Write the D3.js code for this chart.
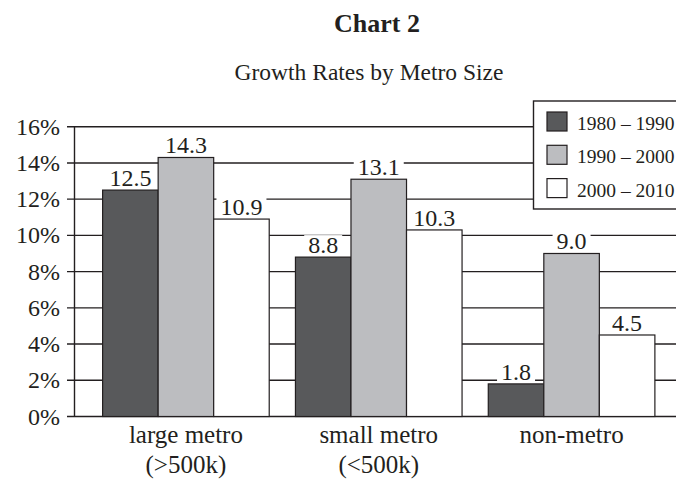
<!DOCTYPE html>
<html>
<head>
<meta charset="utf-8">
<script src="https://cdn.jsdelivr.net/npm/d3@7"></script>
<style>
  body { margin: 0; background: #fff; }
  svg { display: block; font-family: "Liberation Serif", "DejaVu Serif", serif; }
</style>
</head>
<body>
<div id="chart"></div>
<script>
let categories = ["large metro|(>500k)", "small metro|(<500k)", "non-metro"];
let seriesNames = ["1980 \u2013 1990", "1990 \u2013 2000", "2000 \u2013 2010"];
let series1980 = [12.5, 8.8, 1.8];
let series1990 = [14.3, 13.1, 9.0];
let series2000 = [10.9, 10.3, 4.5];
let yTicks = [0, 2, 4, 6, 8, 10, 12, 14, 16];

let colors = ["#58595b", "#bcbdc0", "#ffffff"];
let ink = "#231f20";

let svgWidth = 676;
let svgHeight = 481;

let svg = d3
  .select("#chart")
  .append("svg")
  .attr("width", svgWidth)
  .attr("height", svgHeight);

// titles
svg
  .append("text")
  .text("Chart 2")
  .attr("x", 377)
  .attr("y", 32)
  .attr("text-anchor", "middle")
  .style("font-weight", "bold")
  .style("font-size", "26px")
  .attr("fill", ink);

svg
  .append("text")
  .text("Growth Rates by Metro Size")
  .attr("x", 369)
  .attr("y", 80)
  .attr("text-anchor", "middle")
  .style("font-size", "23.5px")
  .attr("fill", ink);

let yScale = d3.scaleLinear().domain([0, 16]).range([416.5, 126.7]);

let xScale = d3
  .scaleBand()
  .domain(categories)
  .range([89.5, 668])
  .paddingInner(0.136)
  .paddingOuter(0.068);

let xInner = d3
  .scaleBand()
  .domain(seriesNames)
  .range([0, xScale.bandwidth()]);

// gridlines + tick marks
svg
  .append("g")
  .selectAll("line")
  .data(yTicks)
  .enter()
  .append("line")
  .attr("x1", 67)
  .attr("x2", 690)
  .attr("y1", (d) => yScale(d))
  .attr("y2", (d) => yScale(d))
  .attr("stroke", ink)
  .attr("stroke-width", 1.4);

// y axis line
svg
  .append("line")
  .attr("x1", 74.5)
  .attr("x2", 74.5)
  .attr("y1", yScale(16))
  .attr("y2", yScale(0))
  .attr("stroke", ink)
  .attr("stroke-width", 1.4);

svg
  .append("g")
  .selectAll("text")
  .data(yTicks)
  .enter()
  .append("text")
  .text((d) => d + "%")
  .attr("x", 60)
  .attr("y", (d) => yScale(d) + 8)
  .attr("text-anchor", "end")
  .style("font-size", "24px")
  .attr("fill", ink);

let allSeries = [series1980, series1990, series2000];

let rows = [];
categories.forEach((c, i) => {
  allSeries.forEach((s, j) => {
    rows.push({ cat: c, name: seriesNames[j], value: s[i], idx: j });
  });
});

// bars
svg
  .append("g")
  .selectAll("rect")
  .data(rows)
  .enter()
  .append("rect")
  .attr("x", (d) => xScale(d.cat) + xInner(d.name))
  .attr("y", (d) => yScale(d.value))
  .attr("width", xInner.bandwidth())
  .attr("height", (d) => yScale(0) - yScale(d.value))
  .attr("fill", (d) => colors[d.idx])
  .attr("stroke", ink)
  .attr("stroke-width", 1.2);

// value labels, white box behind them breaks the gridlines
let labels = svg.append("g");
rows.forEach((d) => {
  let g = labels.append("g");
  let base = yScale(d.value) - 4;
  let t = g
    .append("text")
    .text(d.value.toFixed(1))
    .attr("x", xScale(d.cat) + xInner(d.name) + xInner.bandwidth() / 2)
    .attr("y", base)
    .attr("text-anchor", "middle")
    .style("font-size", "24px")
    .attr("fill", ink);
  let bb = t.node().getBBox();
  g.insert("rect", "text")
    .attr("x", bb.x - 4)
    .attr("y", bb.y + 3)
    .attr("width", bb.width + 8)
    .attr("height", base + 2 - (bb.y + 3))
    .attr("fill", "#fff");
});

// category labels (two lines)
categories.forEach((c) => {
  let parts = c.split("|");
  let cx = xScale(c) + xScale.bandwidth() / 2;
  parts.forEach((p, k) => {
    svg
      .append("text")
      .text(p)
      .attr("x", cx)
      .attr("y", 443 + k * 30)
      .attr("text-anchor", "middle")
      .style("font-size", "25px")
      .attr("fill", ink);
  });
});

// legend
let legend = svg.append("g");
legend
  .append("rect")
  .attr("x", 533.5)
  .attr("y", 101)
  .attr("width", 160)
  .attr("height", 108)
  .attr("fill", "#fff")
  .attr("stroke", ink)
  .attr("stroke-width", 1.4);

seriesNames.forEach((n, i) => {
  legend
    .append("rect")
    .attr("x", 547)
    .attr("y", 112 + i * 33.3)
    .attr("width", 20)
    .attr("height", 19)
    .attr("fill", colors[i])
    .attr("stroke", ink)
    .attr("stroke-width", 1.2);
  legend
    .append("text")
    .text(n)
    .attr("x", 577)
    .attr("y", 130 + i * 33.3)
    .style("font-size", "19.5px")
    .attr("fill", ink);
});
</script>
</body>
</html>
